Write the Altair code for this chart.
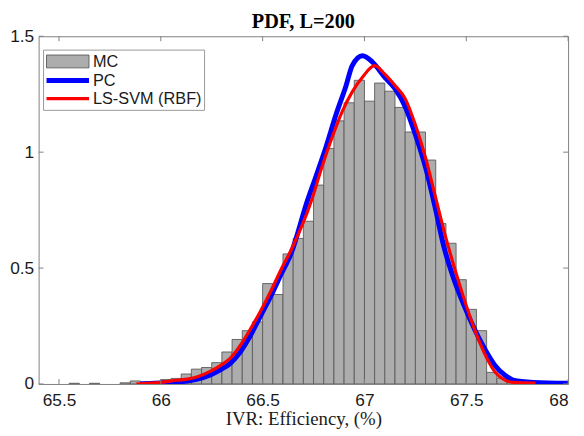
import altair as alt
import pandas as pd

TITLE = "PDF, L=200"
X_TITLE = "IVR: Efficiency, (%)"
SERIES = ["MC", "PC", "LS-SVM (RBF)"]

# Histogram (MC): left bin edges and normalised heights
mc_left = [65.55, 65.65, 65.80, 65.85, 65.90, 65.95, 66.00, 66.05, 66.10, 66.15,
           66.20, 66.25, 66.30, 66.35, 66.40, 66.45, 66.50, 66.55, 66.60, 66.65,
           66.70, 66.75, 66.80, 66.85, 66.90, 66.95, 67.00, 67.05, 67.10, 67.15,
           67.20, 67.25, 67.30, 67.35, 67.40, 67.45, 67.50, 67.55, 67.60, 67.65,
           67.70, 67.75]
mc_height = [0.003, 0.003, 0.005, 0.013, 0.009, 0.011, 0.019, 0.024, 0.043, 0.064,
             0.071, 0.092, 0.138, 0.192, 0.230, 0.268, 0.433, 0.386, 0.561, 0.628,
             0.702, 0.858, 1.016, 1.135, 1.213, 1.310, 1.220, 1.298, 1.263, 1.193,
             1.087, 1.087, 0.966, 0.692, 0.607, 0.450, 0.322, 0.230, 0.050, 0.025,
             0.008, 0.003]
BIN_W = 0.05

# PC curve
pc_x = [65.90, 66.00, 66.08, 66.13, 66.18, 66.24, 66.29, 66.34, 66.39, 66.44,
        66.49, 66.54, 66.59, 66.64, 66.72, 66.76, 66.81, 66.86, 66.91, 66.94,
        66.99, 67.04, 67.10, 67.15, 67.20, 67.25, 67.30, 67.345, 67.39, 67.44,
        67.49, 67.54, 67.59, 67.64, 67.69, 67.73, 67.83, 68.00]
pc_y = [0.000, 0.004, 0.008, 0.013, 0.021, 0.038, 0.060, 0.088, 0.138, 0.209,
        0.294, 0.379, 0.472, 0.564, 0.791, 0.891, 1.019, 1.161, 1.288, 1.373,
        1.416, 1.388, 1.323, 1.274, 1.196, 1.076, 0.934, 0.770, 0.592, 0.450,
        0.337, 0.237, 0.152, 0.081, 0.038, 0.017, 0.007, 0.003]

# LS-SVM (RBF) curve
svm_x = [65.88, 66.00, 66.08, 66.13, 66.18, 66.24, 66.29, 66.34, 66.39, 66.44,
         66.49, 66.54, 66.59, 66.64, 66.74, 66.79, 66.84, 66.89, 66.94, 66.99,
         67.05, 67.10, 67.15, 67.20, 67.25, 67.30, 67.345, 67.39, 67.44, 67.49,
         67.54, 67.59, 67.64, 67.69, 67.73, 67.84]
svm_y = [0.000, 0.007, 0.016, 0.021, 0.031, 0.053, 0.078, 0.110, 0.166, 0.237,
         0.315, 0.400, 0.493, 0.578, 0.791, 0.933, 1.061, 1.174, 1.260, 1.323,
         1.373, 1.337, 1.288, 1.231, 1.118, 0.976, 0.820, 0.663, 0.507, 0.365,
         0.237, 0.131, 0.053, 0.017, 0.007, 0.004]

x_ticks = [65.5, 66, 66.5, 67, 67.5, 68]
y_ticks = [0, 0.5, 1, 1.5]
X_DOMAIN = [65.4, 68]
Y_DOMAIN = [0, 1.5]

W, H = 536, 352
FRAME = "#808080"
TXT = "#1a1a1a"
BAR_FILL = "#adadad"
BAR_EDGE = "#5a5a5a"
BLUE = "#0000ff"
RED = "#ff0000"

mc = pd.DataFrame({"x": mc_left, "x2": [v + BIN_W for v in mc_left], "y": mc_height})
pc = pd.DataFrame({"x": pc_x, "y": pc_y})
svm = pd.DataFrame({"x": svm_x, "y": svm_y})
xt = pd.DataFrame({"x": x_ticks})
yt = pd.DataFrame({"y": y_ticks})

xs = alt.Scale(domain=X_DOMAIN, nice=False, zero=False)
ys = alt.Scale(domain=Y_DOMAIN, nice=False, zero=False)

xaxis = alt.Axis(values=x_ticks, format=".1~f", title=X_TITLE, grid=False, ticks=False,
                 domain=False, labelFont="Liberation Sans", labelFontSize=17.5,
                 labelColor=TXT, labelPadding=8, labelFlush=1, labelFlushOffset=0,
                 titleFont="Liberation Serif", titleFontSize=19, titleFontWeight="normal",
                 titleColor=TXT, titlePadding=1)
yaxis = alt.Axis(values=y_ticks, format=".1~f", title=None, grid=False, ticks=False,
                 domain=False, labelFont="Liberation Sans", labelFontSize=17.5,
                 labelColor=TXT, labelPadding=5, labelFlush=False)

X = lambda f: alt.X(f, type="quantitative", scale=xs, axis=xaxis)
Y = lambda f: alt.Y(f, type="quantitative", scale=ys, axis=yaxis)

bars = alt.Chart(mc).mark_rect(fill=BAR_FILL, stroke=BAR_EDGE, strokeWidth=0.9, clip=True).encode(
    x=X("x"), x2="x2", y=Y("y"), y2=alt.datum(0))

pc_line = alt.Chart(pc).mark_line(color=BLUE, strokeWidth=5, interpolate="monotone",
                                  clip=True).encode(x=X("x"), y=Y("y"))
svm_line = alt.Chart(svm).mark_line(color=RED, strokeWidth=3.2, interpolate="monotone",
                                    clip=True).encode(x=X("x"), y=Y("y"))

tk = 5
xb = alt.Chart(xt).mark_rule(color=FRAME).encode(x=X("x"), y=alt.value(H), y2=alt.value(H - tk))
xtp = alt.Chart(xt).mark_rule(color=FRAME).encode(x=X("x"), y=alt.value(0), y2=alt.value(tk))
yl = alt.Chart(yt).mark_rule(color=FRAME).encode(y=Y("y"), x=alt.value(0), x2=alt.value(tk))
yr = alt.Chart(yt).mark_rule(color=FRAME).encode(y=Y("y"), x=alt.value(W), x2=alt.value(W - tk))

one = alt.Data(values=[{}])
lx0, lx1, ly0, ly1 = 5, 168, 14, 75
leg_box = alt.Chart(one).mark_rect(fill="white", stroke="#999999", strokeWidth=1).encode(
    x=alt.value(lx0), x2=alt.value(lx1), y=alt.value(ly0), y2=alt.value(ly1))
leg_patch = alt.Chart(one).mark_rect(fill=BAR_FILL, stroke=BAR_EDGE, strokeWidth=0.9).encode(
    x=alt.value(8), x2=alt.value(51), y=alt.value(19), y2=alt.value(32))
leg_pc = alt.Chart(one).mark_rule(color=BLUE, strokeWidth=5).encode(
    x=alt.value(8), x2=alt.value(51), y=alt.value(44.8))
leg_svm = alt.Chart(one).mark_rule(color=RED, strokeWidth=3.2).encode(
    x=alt.value(8), x2=alt.value(51), y=alt.value(63.2))
leg_txt = [
    alt.Chart(one).mark_text(align="left", baseline="middle", font="Liberation Sans",
                             fontSize=16.5, color=TXT).encode(
        x=alt.value(55), y=alt.value(yy), text=alt.value(lab))
    for lab, yy in zip(SERIES, [25.8, 45, 63.6])
]

chart = alt.layer(bars, pc_line, svm_line, xb, xtp, yl, yr,
                  leg_box, leg_patch, leg_pc, leg_svm, *leg_txt).properties(
    width=W, height=H,
    title=alt.Title(TITLE, font="Liberation Serif", fontSize=20.5, fontWeight="bold",
                    color="#000000", anchor="middle", offset=-5),
    padding={"left": 31, "top": 26, "right": 8, "bottom": 46},
    autosize=alt.AutoSizeParams(type="none"),
).configure_view(stroke=FRAME, strokeWidth=1)

chart.save("out.html", embed_options={"renderer": "svg", "actions": False})
